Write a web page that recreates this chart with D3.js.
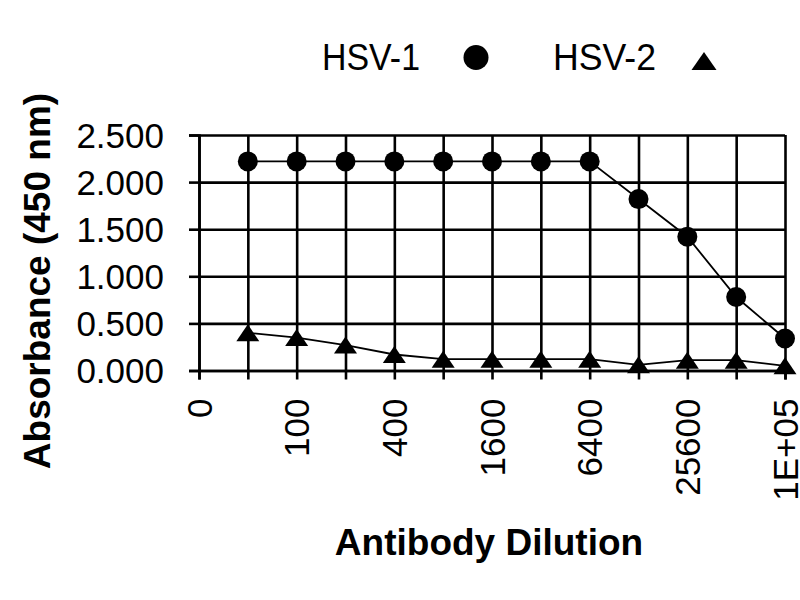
<!DOCTYPE html>
<html>
<head>
<meta charset="utf-8">
<script src="https://cdn.jsdelivr.net/npm/d3@7"></script>
<style>
  html, body { margin: 0; padding: 0; background: #ffffff; }
  svg { display: block; }
  text { font-family: "Liberation Sans", Arial, sans-serif; fill: #000; }
</style>
</head>
<body>
<svg id="chart" width="800" height="600"></svg>
<script>
// ---- data ----
const categories = ["0","50","100","200","400","800","1600","3200","6400","12800","25600","51200","1E+05"];
const tickLabels = ["0","","100","","400","","1600","","6400","","25600","","1E+05"];
const hsv1 = [null, 2.22, 2.22, 2.22, 2.22, 2.22, 2.22, 2.22, 2.22, 1.82, 1.42, 0.78, 0.34];
const hsv2 = [null, 0.40, 0.35, 0.27, 0.17, 0.12, 0.12, 0.12, 0.12, 0.06, 0.11, 0.11, 0.05];
const yTicks = [0, 0.5, 1.0, 1.5, 2.0, 2.5];
const seriesNames = ["HSV-1", "HSV-2"];
const xTitle = "Antibody Dilution";
const yTitle = "Absorbance (450 nm)";

// ---- layout ----
const plotLeft = 199, plotRight = 785, plotTop = 135, plotBottom = 370.5;
const svg = d3.select("#chart");

const x = d3.scalePoint().domain(categories).range([plotLeft, plotRight]);
const y = d3.scaleLinear().domain([0, 2.5]).range([plotBottom, plotTop]);

// gridlines
const grid = svg.append("g").attr("class", "grid");
grid.append("g")
  .attr("transform", `translate(${plotLeft},0)`)
  .call(d3.axisLeft(y).tickValues(yTicks).tickSize(-(plotRight - plotLeft)).tickFormat(""))
  .call(g => g.select(".domain").remove())
  .call(g => g.selectAll("line").attr("stroke", "#000").attr("stroke-width", 2.6));
grid.append("g")
  .attr("transform", `translate(0,${plotBottom})`)
  .call(d3.axisBottom(x).tickSize(-(plotBottom - plotTop)).tickFormat(""))
  .call(g => g.select(".domain").remove())
  .call(g => g.selectAll("line").attr("stroke", "#000").attr("stroke-width", 2.6));

// y axis
const yAxis = svg.append("g")
  .attr("transform", `translate(${plotLeft},0)`)
  .call(d3.axisLeft(y).tickValues(yTicks).tickSize(10).tickPadding(0).tickFormat(d3.format(".3f")));
yAxis.select(".domain").attr("stroke", "#000").attr("stroke-width", 2.6);
yAxis.selectAll(".tick line").attr("stroke", "#000").attr("stroke-width", 2.6);
yAxis.selectAll(".tick text")
  .attr("x", -35).attr("dy", "0.35em")
  .style("font-size", "35px").style("font-family", "'Liberation Sans', Arial, sans-serif");

// x axis
const xAxis = svg.append("g")
  .attr("transform", `translate(0,${plotBottom})`)
  .call(d3.axisBottom(x).tickSize(9).tickFormat((d, i) => tickLabels[i]));
xAxis.select(".domain").attr("stroke", "#000").attr("stroke-width", 2.6);
xAxis.selectAll(".tick line").attr("stroke", "#000").attr("stroke-width", 2.6);
xAxis.selectAll(".tick text")
  .attr("transform", "rotate(-90)")
  .attr("x", -28).attr("y", 12).attr("dy", 0)
  .attr("text-anchor", "end")
  .style("font-size", "35px").style("font-family", "'Liberation Sans', Arial, sans-serif");

// series
const line = d3.line()
  .defined(d => d.v !== null)
  .x(d => x(d.c)).y(d => y(d.v));
const s1 = categories.map((c, i) => ({c, v: hsv1[i]}));
const s2 = categories.map((c, i) => ({c, v: hsv2[i]}));

svg.append("path").datum(s1).attr("d", line)
  .attr("fill", "none").attr("stroke", "#000").attr("stroke-width", 1.8);
svg.append("path").datum(s2).attr("d", line)
  .attr("fill", "none").attr("stroke", "#000").attr("stroke-width", 1.8);

const tri = (w, h) => `M0,${-h/2}L${w/2},${h/2}L${-w/2},${h/2}Z`;

svg.append("g").selectAll("circle")
  .data(s1.filter(d => d.v !== null)).join("circle")
  .attr("cx", d => x(d.c)).attr("cy", d => y(d.v)).attr("r", 10)
  .attr("fill", "#000");
svg.append("g").selectAll("path")
  .data(s2.filter(d => d.v !== null)).join("path")
  .attr("transform", d => `translate(${x(d.c)},${y(d.v)})`)
  .attr("d", tri(23, 17)).attr("fill", "#000");

// legend
const legend = svg.append("g");
legend.append("text").attr("x", 322).attr("y", 70)
  .attr("textLength", 98).attr("lengthAdjust", "spacingAndGlyphs")
  .style("font-size", "37px").text(seriesNames[0]);
legend.append("circle").attr("cx", 476).attr("cy", 57.5).attr("r", 12.5).attr("fill", "#000");
legend.append("text").attr("x", 553).attr("y", 70)
  .attr("textLength", 103).attr("lengthAdjust", "spacingAndGlyphs")
  .style("font-size", "37px").text(seriesNames[1]);
legend.append("path").attr("transform", "translate(704,61)").attr("d", tri(25, 18)).attr("fill", "#000");

// titles
svg.append("text")
  .attr("x", 489).attr("y", 555)
  .attr("text-anchor", "middle")
  .style("font-size", "37px").style("font-weight", "bold")
  .text(xTitle);
svg.append("text")
  .attr("transform", "translate(50,281) rotate(-90)")
  .attr("text-anchor", "middle")
  .style("font-size", "37px").style("font-weight", "bold")
  .text(yTitle);
</script>
</body>
</html>
